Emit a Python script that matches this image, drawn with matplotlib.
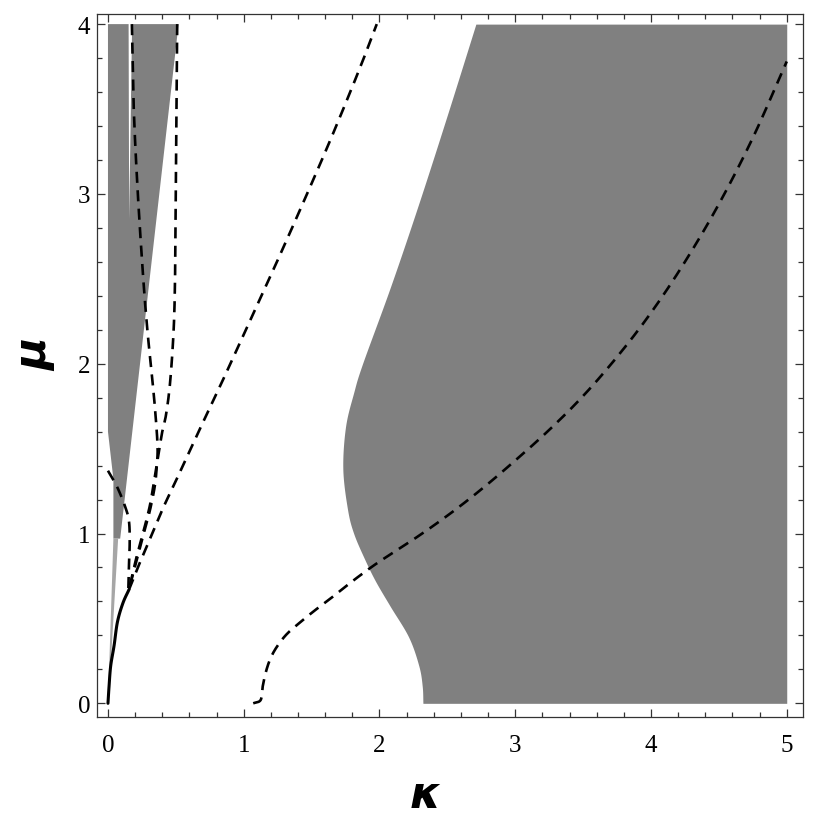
import matplotlib
matplotlib.use('Agg')
import matplotlib.pyplot as plt
import numpy as np
from matplotlib.ticker import MultipleLocator

# ---------------- data ----------------
# right shaded region: left boundary kappa(mu), filled up to kappa = 5
right_mu = [0.0, 0.10, 0.22, 0.39, 0.57, 0.72, 0.85, 1.0, 1.14, 1.38, 1.63, 1.83, 2.0, 2.45, 2.92, 3.44, 4.0]
right_kappa = [2.32, 2.315, 2.29, 2.215, 2.08, 1.97, 1.89, 1.81, 1.765, 1.73, 1.75, 1.81, 1.875, 2.08, 2.28, 2.49, 2.71]
right_kappa_max = 5.0

# left shaded wedge (with the thin white notch near kappa = 0.16)
left_kappa = [0.0, 0.152, 0.156, 0.178, 0.52, 0.09, 0.04, 0.04, 0.0]
left_mu = [4.0, 4.0, 2.85, 4.0, 4.0, 0.97, 0.97, 1.32, 1.6]

# lighter sliver below the wedge
strip_kappa = [0.04, 0.075, 0.012, 0.0]
strip_mu = [0.97, 0.97, 0.12, 0.0]

# dashed curves
curve1_kappa = [1.07, 1.125, 1.14, 1.165, 1.20, 1.25, 1.32, 1.42, 1.52, 1.62, 1.73, 1.86, 2.0,
                2.25, 2.5, 2.75, 3.0, 3.25, 3.5, 3.75, 4.0, 4.25, 4.5, 4.75, 5.0]
curve1_mu = [0.0, 0.02, 0.10, 0.19, 0.27, 0.34, 0.41, 0.48, 0.545, 0.605, 0.675, 0.755, 0.835,
             0.965, 1.105, 1.26, 1.43, 1.61, 1.81, 2.04, 2.30, 2.60, 2.94, 3.33, 3.78]

line2_kappa = [0.155, 0.22, 0.30, 0.40, 0.50, 0.65, 0.85, 1.05, 1.25, 1.45, 1.65, 1.85, 1.98]
line2_mu = [0.67, 0.80, 0.95, 1.14, 1.31, 1.57, 1.91, 2.26, 2.61, 2.97, 3.34, 3.73, 4.0]

curve3_kappa = [0.51, 0.505, 0.50, 0.495, 0.485, 0.46, 0.43, 0.40, 0.375, 0.35, 0.32, 0.29, 0.25, 0.21, 0.175, 0.155]
curve3_mu = [4.0, 3.5, 3.0, 2.55, 2.22, 1.91, 1.71, 1.60, 1.48, 1.36, 1.21, 1.10, 0.98, 0.86, 0.74, 0.67]

curve4_kappa = [0.176, 0.19, 0.22, 0.26, 0.29, 0.315, 0.345, 0.365, 0.36, 0.345, 0.31, 0.27, 0.23, 0.19, 0.155]
curve4_mu = [4.0, 3.5, 3.0, 2.5, 2.2, 2.0, 1.75, 1.52, 1.40, 1.28, 1.14, 1.02, 0.90, 0.78, 0.67]

curve5_kappa = [0.0, 0.07, 0.13, 0.155, 0.16, 0.155, 0.15]
curve5_mu = [1.37, 1.27, 1.15, 1.07, 0.95, 0.82, 0.67]

stem_kappa = [0.155, 0.11, 0.07, 0.045, 0.02, 0.008, 0.0]
stem_mu = [0.67, 0.59, 0.48, 0.34, 0.22, 0.10, 0.0]

x_ticks = [0, 1, 2, 3, 4, 5]
y_ticks = [0, 1, 2, 3, 4]


def smooth(xs, ys, n=12):
    """Catmull-Rom resampling for a smooth rendering through the given points."""
    p = np.column_stack([xs, ys]).astype(float)
    if len(p) < 3:
        return p[:, 0], p[:, 1]
    ext = np.vstack([2 * p[0] - p[1], p, 2 * p[-1] - p[-2]])
    out = []
    t = np.linspace(0, 1, n, endpoint=False)[:, None]
    for i in range(1, len(ext) - 2):
        p0, p1, p2, p3 = ext[i - 1], ext[i], ext[i + 1], ext[i + 2]
        seg = 0.5 * ((2 * p1) + (-p0 + p2) * t + (2 * p0 - 5 * p1 + 4 * p2 - p3) * t ** 2
                     + (-p0 + 3 * p1 - 3 * p2 + p3) * t ** 3)
        out.append(seg)
    out.append(p[-1][None, :])
    out = np.vstack(out)
    return out[:, 0], out[:, 1]


fig = plt.figure(figsize=(8.30, 8.29), dpi=100)
ax = fig.add_axes([0.117, 0.134, 0.8505, 0.848])

gray = '#808080'
rk, rm = smooth(right_kappa, right_mu)
ax.fill_betweenx(rm, rk, right_kappa_max, color=gray, lw=0)
ax.fill(left_kappa, left_mu, color=gray, lw=0)
ax.fill(strip_kappa, strip_mu, color='#a6a6a6', lw=0)

dash = dict(color='black', lw=1.9, ls=(0, (4.2, 2.8)), solid_capstyle='butt', dash_capstyle='butt')
for kx, my in [(curve1_kappa, curve1_mu), (line2_kappa, line2_mu), (curve3_kappa, curve3_mu),
               (curve4_kappa, curve4_mu), (curve5_kappa, curve5_mu)]:
    sx, sy = smooth(kx, my)
    ax.plot(sx, sy, **dash)
sx, sy = smooth(stem_kappa, stem_mu)
ax.plot(sx, sy, color='black', lw=2.2, solid_capstyle='round')

ax.set_xlim(-0.08, 5.12)
ax.set_ylim(-0.08, 4.06)

ax.set_xticks(x_ticks)
ax.set_yticks(y_ticks)
ax.xaxis.set_minor_locator(MultipleLocator(0.2))
ax.yaxis.set_minor_locator(MultipleLocator(0.2))
ax.tick_params(which='both', direction='in', top=True, right=True, color='#333333', width=0.9)
ax.tick_params(which='major', length=6)
ax.tick_params(which='minor', length=3.5)
ax.tick_params(axis='x', which='major', pad=12)
ax.tick_params(axis='y', which='major', pad=5)
for lab in ax.get_xticklabels() + ax.get_yticklabels():
    lab.set_fontfamily('Liberation Serif')
    lab.set_fontsize(18)
for s in ax.spines.values():
    s.set_color('#333333')
    s.set_linewidth(0.9)

fig.text(0.512, 0.041, 'κ', fontsize=32, fontweight='bold', fontstyle='italic',
         family='DejaVu Sans', ha='center', va='center')
fig.text(0.042, 0.572, 'μ', fontsize=32, fontweight='bold', fontstyle='italic',
         family='DejaVu Sans', ha='center', va='center', rotation=90)

fig.savefig('out.png', dpi=100, facecolor='white')
